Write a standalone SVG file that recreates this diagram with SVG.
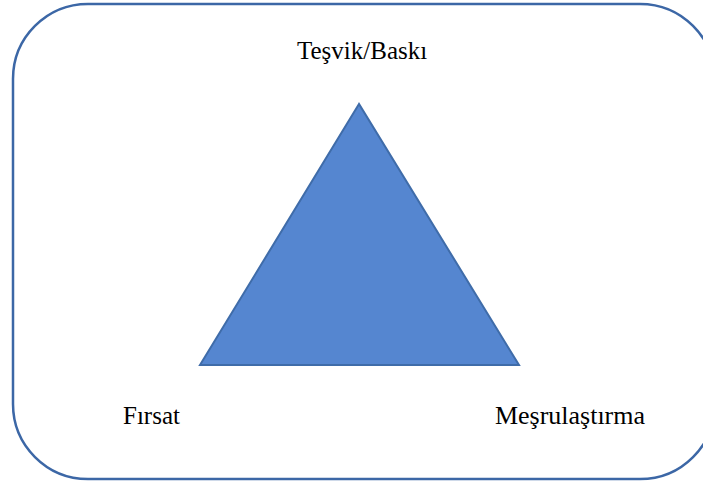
<svg xmlns="http://www.w3.org/2000/svg" width="703" height="483" viewBox="0 0 703 483">
<style>
.lbl{font-family:"Liberation Serif","Times New Roman",serif;font-size:25px;fill:#000}
</style>
<rect width="703" height="483" fill="#fff"/>
<g id="frame"><rect x="13" y="4" width="702" height="475" rx="75" ry="75" fill="none" stroke="#3C67A6" stroke-width="2.5"/></g>
<g id="triangle"><polygon points="359,104 200,365 519,365" fill="#5586D0" stroke="#3F6CA9" stroke-width="2"/></g>
<g id="t1"><text class="lbl" x="297" y="59">Teşvik/Baskı</text></g>
<g id="t2"><text class="lbl" x="123" y="424">Fırsat</text></g>
<g id="t3"><text class="lbl" x="495" y="424" textLength="150" lengthAdjust="spacingAndGlyphs">Meşrulaştırma</text></g>
<g id="connectors"></g>
</svg>
